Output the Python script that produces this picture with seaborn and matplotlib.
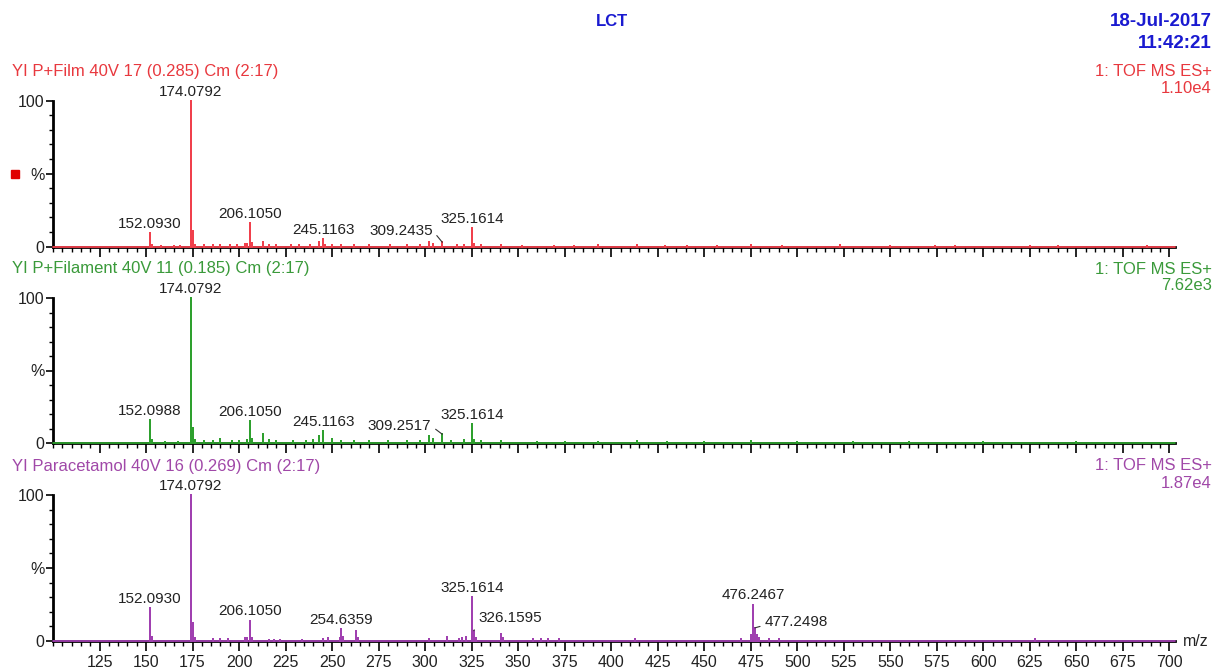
import matplotlib
matplotlib.use("Agg")
import matplotlib.pyplot as plt
import seaborn as sns
import pandas as pd
from matplotlib.ticker import MultipleLocator, FixedLocator, FixedFormatter

# ---------------- data ----------------
title = "LCT"
date_text = "18-Jul-2017"
time_text = "11:42:21"

names = ["YI P+Film 40V 17 (0.285) Cm (2:17)",
         "YI P+Filament 40V 11 (0.185) Cm (2:17)",
         "YI Paracetamol 40V 16 (0.269) Cm (2:17)"]
instrument = "1: TOF MS ES+"
scales = ["1.10e4", "7.62e3", "1.87e4"]

film_mz = [152.0930, 153.1, 158, 165, 168, 174.0792, 175.08, 176.1, 181, 186, 190, 195, 199,
           203, 204, 206.1050, 207.1, 213.1, 216, 220, 228, 232, 238, 243.1, 245.1163, 246.1,
           250, 255, 262, 270, 281, 290, 297, 302, 304, 309.2435, 317, 321, 325.1614, 326.2,
           330, 341, 352, 369, 380, 393, 414, 429, 441, 457, 475, 492, 523, 550, 574, 585,
           625, 640, 688]
film_int = [9.6, 1.5, 0.8, 0.8, 0.8, 100, 11, 1.5, 1.5, 1.2, 1.5, 1.5, 1.2,
            1.8, 2.0, 16, 2.5, 3.4, 1.5, 1.2, 1.0, 1.2, 1.5, 3.0, 5.0, 1.5,
            1.5, 1.2, 1.2, 1.0, 1.0, 1.0, 1.2, 3.5, 2.0, 3.0, 1.5, 1.5, 12.5, 2.0,
            1.0, 1.0, 0.8, 0.8, 0.8, 1.0, 1.5, 0.8, 0.8, 0.8, 1.5, 0.8, 1.0, 0.8, 0.8, 0.8,
            0.8, 0.8, 0.6]

fil_mz = [152.0988, 153.1, 160, 167, 174.0792, 175.08, 176.1, 181, 186, 190, 196, 200, 204,
          206.1050, 207.1, 213.1, 216, 220, 229, 236, 240, 243.1, 245.1163, 250, 255, 262,
          270, 280, 290, 297, 302, 304, 309.2517, 314, 321, 325.1614, 326.2, 330, 341, 360,
          375, 393, 414, 430, 450, 475, 500, 530, 560, 600, 650]
fil_int = [16, 2.0, 1.0, 1.0, 100, 10.5, 2.0, 1.5, 1.5, 3.0, 1.5, 1.5, 2.0,
           15, 2.5, 6.5, 2.0, 1.5, 1.5, 1.5, 2.0, 5.0, 8.5, 3.0, 1.5, 1.5,
           1.2, 1.2, 1.2, 1.5, 5.0, 2.5, 6.0, 1.5, 2.0, 13, 2.0, 1.2, 1.5, 1.0,
           1.0, 1.0, 1.5, 1.0, 1.0, 1.5, 1.0, 1.0, 0.8, 0.8, 0.8]

para_mz = [152.0930, 153.1, 174.0792, 175.08, 176.1, 186, 190, 194, 203, 204, 206.1050, 207.1,
           216, 219, 222, 234, 245, 248, 254, 254.6359, 256, 263, 264, 302, 312, 318, 320, 322,
           325.1614, 326.1595, 327.2, 341, 342, 358, 362, 366, 372, 413, 470, 475, 476.2467,
           477.2498, 478.2, 479.2, 485, 490, 628]
para_int = [22.6, 2.5, 100, 12.3, 2.0, 1.5, 1.5, 1.5, 1.8, 2.0, 14, 2.0,
            1.0, 1.0, 1.0, 1.0, 1.5, 2.0, 2.0, 8.4, 3.0, 7.0, 2.0, 1.5, 2.5, 1.5, 2.0, 3.0,
            30, 7.0, 2.0, 5.0, 2.0, 1.5, 1.5, 1.5, 1.2, 1.5, 1.2, 4.0, 25,
            9.0, 4.0, 2.0, 1.2, 1.2, 1.5]

film_labels = ["152.0930", "174.0792", "206.1050", "245.1163", "309.2435", "325.1614"]
fil_labels = ["152.0988", "174.0792", "206.1050", "245.1163", "309.2517", "325.1614"]
para_labels = ["152.0930", "174.0792", "206.1050", "254.6359", "325.1614", "326.1595",
               "476.2467", "477.2498"]

x_ticks = list(range(125, 701, 25))

# ---------------- style ----------------
sns.set_theme(style="ticks")
plt.rcParams["font.family"] = ["Liberation Sans", "DejaVu Sans"]

line_colors = ["#f0404c", "#2ea02e", "#a040b0"]
text_colors = ["#e8383e", "#3a9a3a", "#a048a8"]
blue = "#1a1ad0"
label_fs = 11
header_fs = 12
tick_fs = 11.5

# leader-line labels: text -> (dx, dy in points, ha)
leaders = {"309.2435": (-7, 8.5, "right"), "309.2517": (-8, 6, "right"),
           "326.1595": (3, 9, "left"), "477.2498": (7, 4, "left")}

W, H = 1221, 671
fig = plt.figure(figsize=(W / 100, H / 100), dpi=100)

# axes placement in pixels: (y of 0-line, y of 100-line)
panel_px = [(246.7, 100.7), (443.0, 298.0), (641.0, 495.0)]
x_left_px, x_right_px = 53, 1175
XMIN, XMAX = 100, 703

panels = [(film_mz, film_int, film_labels),
          (fil_mz, fil_int, fil_labels),
          (para_mz, para_int, para_labels)]

for i, ((mz, inten, labels), (y0, y100)) in enumerate(zip(panels, panel_px)):
    ax = fig.add_axes([x_left_px / W, 1 - y0 / H, (x_right_px - x_left_px) / W, (y0 - y100) / H])
    order = sorted(range(len(mz)), key=lambda k: mz[k])
    xs, ys = [XMIN], [0.0]
    for k in order:
        xs += [mz[k], mz[k], mz[k]]
        ys += [0.0, inten[k], 0.0]
    xs.append(XMAX); ys.append(0.0)
    df = pd.DataFrame({"mz": xs, "int": ys})
    sns.lineplot(data=df, x="mz", y="int", sort=False, estimator=None,
                 color=line_colors[i], lw=1.3, ax=ax, zorder=3)
    for ln in ax.lines:
        ln.set_clip_on(False)

    ax.set_xlim(XMIN, XMAX)
    ax.set_ylim(0, 100)
    ax.set_xlabel("")
    ax.set_ylabel("")
    sns.despine(ax=ax)
    for s in ("left", "bottom"):
        ax.spines[s].set_color("black")
        ax.spines[s].set_linewidth(2.0)
    ax.spines["bottom"].set_zorder(2)

    ax.xaxis.set_major_locator(FixedLocator(x_ticks))
    ax.xaxis.set_minor_locator(MultipleLocator(5))
    ax.yaxis.set_major_locator(FixedLocator([0, 50, 100]))
    ax.yaxis.set_major_formatter(FixedFormatter(["0", "%", "100"]))
    ax.yaxis.set_minor_locator(MultipleLocator(10))
    ax.tick_params(axis="x", which="major", length=7, width=1.2, color="black",
                   labelsize=tick_fs, labelcolor="#222222", pad=3)
    ax.tick_params(axis="x", which="minor", length=3.5, width=1.0, color="black")
    ax.tick_params(axis="y", which="major", length=5, width=1.2, color="black",
                   labelsize=tick_fs, labelcolor="#222222", pad=1)
    ax.tick_params(axis="y", which="minor", length=3, width=1.0, color="black")
    if i < 2:
        ax.tick_params(axis="x", labelbottom=False)

    # peak labels
    for lab in labels:
        val = float(lab)
        k = min(range(len(mz)), key=lambda j: abs(mz[j] - val))
        h = inten[k]
        if lab in leaders:
            dx, dy, ha = leaders[lab]
            rel = (1, 0.5) if ha == "right" else (0, 0.3)
            ax.annotate(lab, xy=(mz[k], h), xytext=(dx, dy), textcoords="offset points",
                        ha=ha, va="center", fontsize=label_fs, color="#222222",
                        annotation_clip=False,
                        arrowprops=dict(arrowstyle="-", color="#333333", lw=0.8,
                                        shrinkA=1, shrinkB=0, relpos=rel))
        else:
            ax.annotate(lab, xy=(mz[k], h), xytext=(0, 1.5), textcoords="offset points",
                        ha="center", va="bottom", fontsize=label_fs, color="#222222",
                        annotation_clip=False)

    # headers
    fig.text(12 / W, 1 - (y100 - 29) / H, names[i], color=text_colors[i],
             fontsize=header_fs, ha="left", va="center")
    fig.text(1212 / W, 1 - (y100 - 29) / H, instrument, color=text_colors[i],
             fontsize=header_fs, ha="right", va="center")
    fig.text(1212 / W, 1 - (y100 - 12) / H, scales[i], color=text_colors[i],
             fontsize=header_fs, ha="right", va="center")

    if i == 0:
        ax.plot([-0.034], [0.5], marker="s", color="#e00000", markersize=6,
                transform=ax.transAxes, clip_on=False, ls="none")
    if i == 2:
        fig.text(1183 / W, 1 - 642 / H, "m/z", fontsize=tick_fs, color="#222222",
                 ha="left", va="center")

fig.text(612 / W, 1 - 22 / H, title, color=blue, fontsize=12, fontweight="bold",
         ha="center", va="center")
fig.text(1212 / W, 1 - 22 / H, date_text, color=blue, fontsize=13.5, fontweight="bold",
         ha="right", va="center")
fig.text(1212 / W, 1 - 44 / H, time_text, color=blue, fontsize=13.5, fontweight="bold",
         ha="right", va="center")

fig.savefig("out.png", dpi=100, facecolor="white")
